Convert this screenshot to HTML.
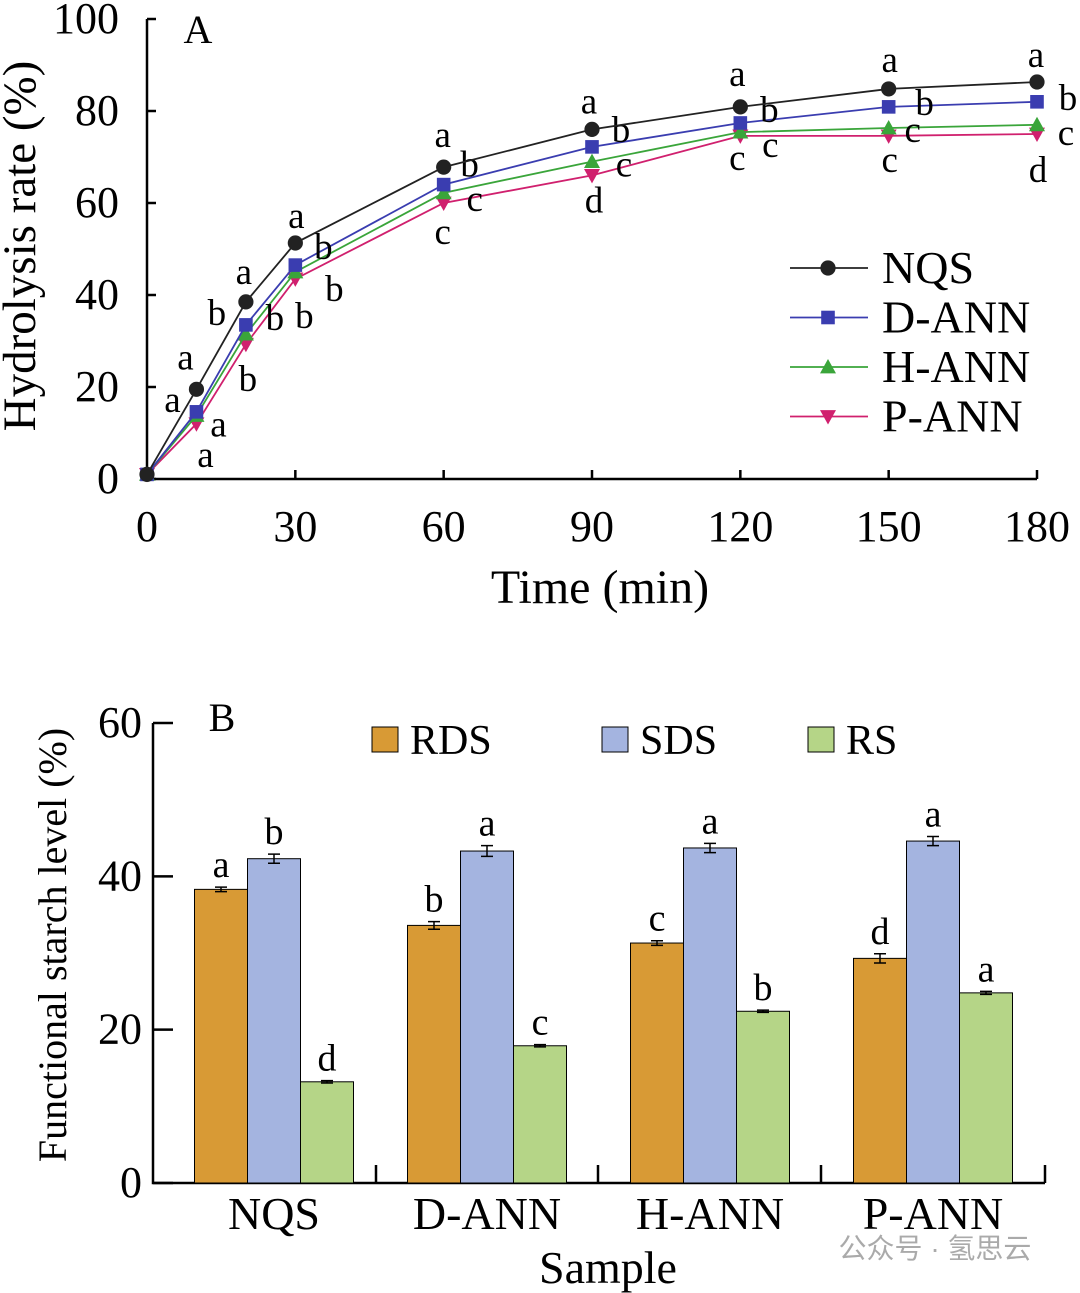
<!DOCTYPE html>
<html><head><meta charset="utf-8"><style>
body{margin:0;background:#fff}
svg{display:block;font-family:"Liberation Serif",serif}
</style></head><body>
<svg id="s" width="1080" height="1293">
<g id="ga"></g>
<g id="gb"></g>
<text x="935" y="1258" font-size="28" fill="#aaa" text-anchor="middle" font-family="'Liberation Sans','Noto Sans CJK SC',sans-serif">公众号 · 氢思云</text>
</svg>
<script>
const times=[0,10,20,30,60,90,120,150,180];
const seriesNames=["NQS","D-ANN","H-ANN","P-ANN"];
const nqs=[1,19.5,38.5,51.3,67.8,76,80.9,84.8,86.3];
const dann=[1,14.6,33.5,46.5,64,72.2,77.4,80.9,82];
const hann=[1,13.8,31.5,45,62.2,69,75.4,76.3,77];
const pann=[1,12,29.3,43.5,60,66,74.6,74.6,75];
const lettersN=["","a","a","a","a","a","a","a","a"];
const lettersD=["","a","b","b","b","b","b","b","b"];
const lettersH=["","a","b","b","c","c","c","c","c"];
const lettersP=["","a","b","b","c","d","c","c","d"];
const xTicksA=[0,30,60,90,120,150,180];
const yTicksA=[0,20,40,60,80,100];

const samples=["NQS","D-ANN","H-ANN","P-ANN"];
const rds=[38.3,33.6,31.3,29.3];
const sds=[42.3,43.3,43.7,44.6];
const rs=[13.2,17.9,22.4,24.8];
const rdsErr=[0.3,0.5,0.3,0.6];
const sdsErr=[0.6,0.7,0.6,0.6];
const rsErr=[0.15,0.15,0.15,0.2];
const rdsLet=["a","b","c","d"];
const sdsLet=["b","a","a","a"];
const rsLet=["d","c","b","a"];
const yTicksB=[0,20,40,60];

const NS="http://www.w3.org/2000/svg";
function el(p,t,a,txt){const e=document.createElementNS(NS,t);for(const k in a)e.setAttribute(k,a[k]);if(txt!==undefined)e.textContent=txt;p.appendChild(e);return e;}

// Chart A
const ga=document.getElementById('ga');
const xa=t=>147+t*890/180, ya=v=>479-v*4.6;
let e;
e=el(ga,'path',{d:`M147,${ya(100)}V479H1037`,stroke:'#000','stroke-width':2.5,fill:'none'});


xTicksA.forEach(t=>{
 el(ga,'line',{x1:xa(t),x2:xa(t),y1:479,y2:470,stroke:'#000','stroke-width':2.5});
 e=el(ga,'text',{x:xa(t),y:541,'font-size':44,'text-anchor':'middle'},t);
 
 
});
yTicksA.forEach(v=>{
 el(ga,'line',{x1:147,x2:156,y1:ya(v),y2:ya(v),stroke:'#000','stroke-width':2.5});
 e=el(ga,'text',{x:119,y:ya(v)+14,'font-size':44,'text-anchor':'end'},v);
 
 
});
e=el(ga,'text',{x:198,y:43,'font-size':40,'text-anchor':'middle'},'A');


e=el(ga,'text',{x:600,y:603,'font-size':48,'text-anchor':'middle'},'Time (min)');


e=el(ga,'text',{x:0,y:0,'font-size':47,'text-anchor':'middle',transform:'translate(35,246) rotate(-90)'},'Hydrolysis rate (%)');



const colsA=["#222","#3a3db0","#3aa53a","#d0206e"];
const data=[nqs,dann,hann,pann];
const lets=[lettersN,lettersD,lettersH,lettersP];
const offs=[
 [[0,0],[-11,-32],[-2,-30],[1,-27],[-1,-32],[-3,-28],[-3,-33],[1,-29],[-1,-27]],
 [[0,0],[-24,-12],[-29,-12],[28,-18],[26,-20],[29,-17],[29,-13],[36,-4],[31,-4]],
 [[0,0],[22,9],[29,-16],[39,17],[31,6],[32,3],[30,13],[24,2],[29,8]],
 [[0,0],[9,31],[2,35],[9,37],[-1,29],[2,25],[-3,22],[1,24],[1,36]]];
function marker(g,i,x,y,s){
 const c=colsA[i];
 if(i==0) return el(g,'circle',{cx:x,cy:y,r:s*0.95,fill:c});
 if(i==1) return el(g,'rect',{x:x-s*0.85,y:y-s*0.85,width:s*1.7,height:s*1.7,fill:c});
 if(i==2) return el(g,'path',{d:`M${x},${y-s}L${x+s},${y+s*0.8}L${x-s},${y+s*0.8}Z`,fill:c});
 return el(g,'path',{d:`M${x},${y+s}L${x+s},${y-s*0.8}L${x-s},${y-s*0.8}Z`,fill:c});
}
[3,2,1,0].forEach(i=>{
 const g=el(ga,'g',{});
 
 
 el(g,'polyline',{points:times.map((t,j)=>xa(t)+','+ya(data[i][j])).join(' '),fill:'none',stroke:colsA[i],'stroke-width':1.8});
 times.forEach((t,j)=>{
  const m=marker(g,i,xa(t),ya(data[i][j]),8);
  
  
  if(lets[i][j]){
   const tx=el(g,'text',{x:xa(t)+offs[i][j][0],y:ya(data[i][j])+offs[i][j][1]+12,'font-size':37,'text-anchor':'middle'},lets[i][j]);
   
   
  }
 });
});
seriesNames.forEach((n,i)=>{
 const y=268+i*49.5;
 const g=el(ga,'g',{});
 
 
 el(g,'line',{x1:790,x2:868,y1:y,y2:y,stroke:colsA[i],'stroke-width':1.8});
 marker(g,i,828,y,8);
 el(g,'text',{x:882,y:y+15,'font-size':46},n);
});

// Chart B
const gb=document.getElementById('gb');
const yb=v=>1183-v*460/60;
const gc=[274,487,710,933];
e=el(gb,'path',{d:`M153,723V1183H1045`,stroke:'#000','stroke-width':2.5,fill:'none'});


[376,598,821,1045].forEach(x=>el(gb,'line',{x1:x,x2:x,y1:1183,y2:1165,stroke:'#000','stroke-width':2.5}));
yTicksB.forEach(v=>{
 el(gb,'line',{x1:153,x2:173,y1:yb(v),y2:yb(v),stroke:'#000','stroke-width':2.5});
 e=el(gb,'text',{x:142,y:yb(v)+14,'font-size':44,'text-anchor':'end'},v);
 
 
});
e=el(gb,'text',{x:222,y:731,'font-size':40,'text-anchor':'middle'},'B');


e=el(gb,'text',{x:608,y:1283,'font-size':46,'text-anchor':'middle'},'Sample');


e=el(gb,'text',{x:0,y:0,'font-size':40,'text-anchor':'middle',transform:'translate(66,945) rotate(-90)'},'Functional starch level (%)');


const bcols=["#d89a35","#a4b4e0","#b5d587"];
const bvals=[rds,sds,rs], berr=[rdsErr,sdsErr,rsErr], blet=[rdsLet,sdsLet,rsLet];
const bnames=["rds","sds","rs"];
samples.forEach((s,gi)=>{
 e=el(gb,'text',{x:gc[gi],y:1229,'font-size':46,'text-anchor':'middle'},s);
 
 
 for(let k=0;k<3;k++){
  const x0=gc[gi]-79.5+k*53, v=bvals[k][gi];
  const r=el(gb,'rect',{x:x0,y:yb(v),width:53,height:1183-yb(v),fill:bcols[k],stroke:'#000','stroke-width':1});
  
  
  const cx=x0+26.5, er=berr[k][gi];
  el(gb,'path',{d:`M${cx},${yb(v+er)}V${yb(v-er)}M${cx-6},${yb(v+er)}H${cx+6}M${cx-6},${yb(v-er)}H${cx+6}`,stroke:'#000','stroke-width':1.5,fill:'none'});
  const t=el(gb,'text',{x:cx,y:yb(v+er)-10,'font-size':38,'text-anchor':'middle'},blet[k][gi]);
  
  
 }
});
[["RDS",372,410],["SDS",602,640],["RS",808,846]].forEach((l,k)=>{
 const g=el(gb,'g',{});
 
 
 el(g,'rect',{x:l[1],y:727,width:26,height:25,fill:bcols[k],stroke:'#000','stroke-width':1});
 el(g,'text',{x:l[2],y:754,'font-size':42},l[0]);
});
</script>
</body></html>
